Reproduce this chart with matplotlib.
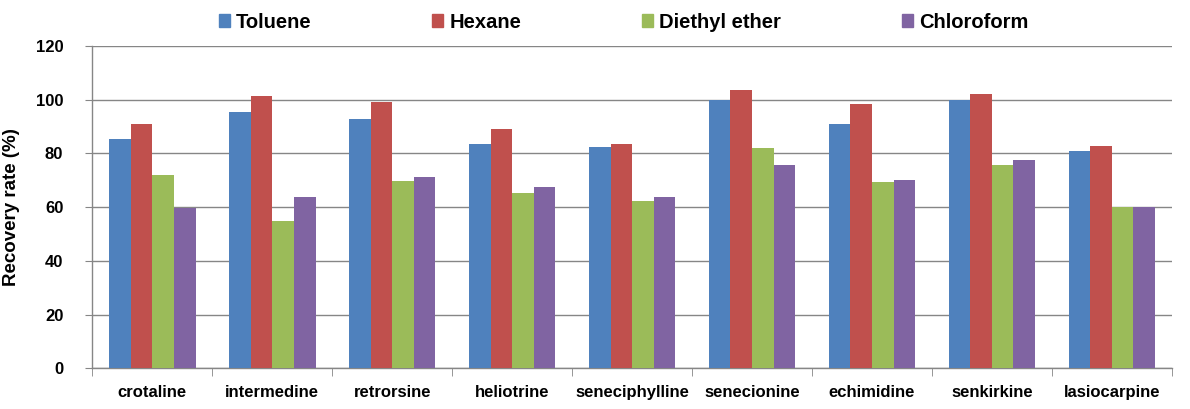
import matplotlib
matplotlib.use('Agg')
import matplotlib.pyplot as plt
import matplotlib.patches as mpatches
import numpy as np

matplotlib.rcParams['font.family'] = 'sans-serif'
matplotlib.rcParams['font.sans-serif'] = ['Liberation Sans', 'DejaVu Sans']
matplotlib.rcParams['font.weight'] = 'bold'

categories = ['crotaline', 'intermedine', 'retrorsine', 'heliotrine', 'seneciphylline',
              'senecionine', 'echimidine', 'senkirkine', 'lasiocarpine']
series_names = ['Toluene', 'Hexane', 'Diethyl ether', 'Chloroform']
toluene = [85.4, 95.5, 92.8, 83.5, 82.4, 100.0, 91.0, 100.0, 80.9]
hexane = [91.0, 101.4, 99.2, 89.1, 83.5, 103.6, 98.4, 102.2, 82.8]
diethyl_ether = [72.0, 54.9, 69.8, 65.3, 62.3, 82.0, 69.4, 75.7, 60.0]
chloroform = [59.8, 63.8, 71.3, 67.5, 63.8, 75.7, 70.1, 77.6, 60.0]

colors = ['#4F81BD', '#C0504D', '#9BBB59', '#8064A2']
grey = '#868686'

fig = plt.figure(figsize=(11.9, 4.09), dpi=100)
ax = fig.add_axes([0.0777, 0.0995, 0.907, 0.788])

x = np.arange(len(categories))
width = 0.18
for i, vals in enumerate([toluene, hexane, diethyl_ether, chloroform]):
    ax.bar(x + (i - 1.5) * width, vals, width, color=colors[i], zorder=3)

ax.set_xlim(-0.5, len(categories) - 0.5)
ax.set_ylim(0, 120)
ax.set_yticks(np.arange(0, 121, 20))
ax.yaxis.grid(True, color=grey, linewidth=1, zorder=0)
ax.set_xticks(x)
ax.set_xticklabels(categories, fontsize=12, fontweight='bold')
ax.set_xticks(np.arange(-0.5, len(categories), 1), minor=True)
ax.tick_params(axis='x', which='major', length=0, pad=12)
ax.tick_params(axis='x', which='minor', length=6, color=grey, direction='out')
ax.tick_params(axis='y', length=5, color=grey, labelsize=12, pad=16)
for lab in ax.get_yticklabels():
    lab.set_fontweight('bold')

for s in ['top', 'right']:
    ax.spines[s].set_visible(False)
for s in ['left', 'bottom']:
    ax.spines[s].set_color(grey)
    ax.spines[s].set_linewidth(1)

ax.set_ylabel('Recovery rate (%)', fontsize=13.5, fontweight='bold')
ax.yaxis.set_label_coords(-0.067, 0.5)

patches = [mpatches.Patch(color=colors[i], label=series_names[i]) for i in range(4)]
fig.legend(handles=patches, loc='center', bbox_to_anchor=(0.524, 0.946), ncol=4,
           frameon=False, handlelength=0.55, handleheight=0.55,
           handletextpad=0.3, columnspacing=6.0,
           prop={'weight': 'bold', 'size': 14.5})

fig.savefig('out.png', dpi=100)
